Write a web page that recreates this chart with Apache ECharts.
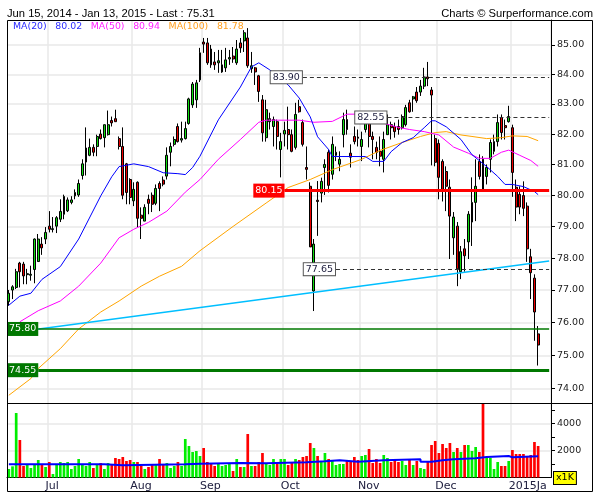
<!DOCTYPE html>
<html><head><meta charset="utf-8">
<script src="https://cdn.jsdelivr.net/npm/echarts@6/dist/echarts.min.js"></script>
<style>html,body{margin:0;padding:0;background:#fff}#c{width:600px;height:500px}</style>
</head><body><div id="c"></div>
<script>
// ---------- data ----------
const dateRange = ['Jun 15, 2014', 'Jan 13, 2015'];
const monthNames = ['Jun','Jul','Aug','Sep','Oct','Nov','Dec','2015Ja'];
const monthCounts = [10,23,19,22,21,21,20,9];
// [open, close, low, high]
const ohlc = [
[76.64,76.90,76.51,77.00],[77.00,77.10,76.72,77.15],[77.08,77.57,77.03,77.66],[77.84,77.57,77.08,77.88],[77.81,77.44,77.18,77.88],
[77.48,77.51,77.18,77.66],[77.46,77.49,77.29,77.76],[77.64,78.60,77.21,78.62],[77.89,78.60,77.88,78.76],[78.44,78.32,78.10,78.66],
[78.60,78.81,78.44,78.98],[79.01,78.91,78.81,79.49],[78.90,78.93,78.81,79.30],[79.01,79.28,78.79,79.33],[79.23,79.48,79.14,79.87],
[79.39,79.96,79.23,80.02],[79.50,79.85,79.46,79.93],[79.77,79.85,79.71,79.97],[79.98,80.09,79.87,80.19],[80.01,80.38,79.95,80.51],
[80.64,81.02,80.51,81.17],[81.08,81.54,80.64,82.22],[81.30,81.56,81.27,81.85],[81.56,81.40,81.27,81.66],[81.59,81.92,81.27,81.98],
[82.00,81.85,81.82,82.15],[81.88,82.31,81.56,82.31],[81.98,82.31,81.95,82.78],[82.45,82.37,82.25,82.58],[82.51,82.41,82.41,82.81],
[81.85,81.59,81.49,81.92],[81.59,80.00,79.87,82.22],[81.02,80.09,79.71,81.05],[80.51,79.93,79.71,80.55],[79.82,80.19,79.65,80.42],
[80.42,79.26,78.97,80.45],[79.36,79.26,78.60,79.61],[79.17,79.61,79.17,79.71],[79.87,79.74,79.39,80.02],[80.00,79.71,79.46,80.09],
[79.74,80.22,79.68,80.35],[80.38,80.22,79.49,80.45],[80.49,80.36,80.29,80.61],[80.62,81.30,80.51,81.56],[81.40,81.59,80.94,81.72],
[81.66,81.82,81.59,81.92],[82.25,81.75,81.72,82.35],[81.80,81.85,81.72,82.41],[81.85,82.18,81.82,82.41],[82.35,83.17,82.31,83.21],
[82.97,83.67,82.87,83.74],[83.14,83.71,82.87,83.81],[83.81,84.73,83.74,84.90],[85.10,85.03,84.73,85.24],[85.07,84.39,84.32,85.24],
[84.86,84.32,84.22,85.00],[84.42,84.32,84.15,84.76],[84.39,84.46,84.05,84.83],[84.08,84.32,84.05,84.83],[84.22,84.49,84.08,84.90],
[84.52,84.57,84.32,84.83],[84.62,84.52,84.39,84.93],[84.39,84.86,84.32,85.17],[85.07,84.90,84.73,85.24],[85.14,85.42,84.76,85.51],
[85.24,84.29,84.22,85.58],[84.19,84.29,84.05,84.76],[84.22,84.08,83.64,84.25],[83.95,83.42,83.07,83.98],[83.14,82.04,81.75,83.30],
[81.88,82.81,81.75,83.14],[82.41,82.51,82.15,82.71],[82.25,82.48,81.59,82.58],[82.41,81.92,81.49,82.48],[81.49,81.75,80.58,82.04],
[82.00,82.12,81.59,82.41],[82.15,81.98,81.49,82.91],[81.98,81.43,81.40,82.15],[81.56,82.65,81.49,83.04],[82.91,82.74,82.71,83.14],
[82.38,81.66,81.59,82.48],[80.90,80.84,80.51,81.59],[80.29,78.35,78.35,80.42],[76.97,78.44,76.35,78.60],[79.84,79.80,78.70,80.46],
[80.07,80.45,79.77,80.57],[80.90,81.00,80.01,81.17],[81.40,80.32,80.09,81.49],[80.68,81.66,80.51,81.92],[81.30,81.40,81.11,81.59],
[81.01,81.17,80.78,81.43],[81.98,82.48,81.56,82.71],[82.48,82.15,81.98,82.81],[81.37,81.24,80.90,81.66],[81.92,81.75,81.66,82.25],
[81.90,81.86,81.59,82.15],[81.59,81.82,81.11,82.08],[82.15,82.55,82.05,82.65],[82.45,81.92,81.56,82.55],[81.92,81.82,81.17,82.08],
[81.56,81.40,81.17,81.75],[81.43,81.27,80.94,81.92],[81.17,81.82,80.74,82.08],[81.98,82.31,81.98,82.65],[82.31,82.21,81.82,82.41],
[82.25,82.08,81.88,82.38],[82.25,82.15,81.98,82.48],[82.21,82.58,82.15,82.65],[82.31,82.88,82.25,82.97],[83.04,82.74,82.71,83.14],
[83.17,83.24,82.74,83.27],[83.40,83.11,83.04,83.57],[83.40,83.60,83.27,83.81],[83.60,83.91,83.50,84.22],[83.91,83.85,83.60,84.42],
[83.47,83.30,80.97,83.57],[81.85,81.07,80.94,81.98],[81.69,80.58,79.87,81.82],[81.10,80.19,79.80,81.17],[80.77,80.29,79.49,80.94],
[80.26,79.33,77.97,80.51],[78.64,79.30,78.10,79.46],[79.01,77.66,77.12,79.14],[77.57,78.20,77.34,78.38],[78.29,78.07,77.57,78.60],
[78.51,79.39,77.97,79.49],[79.14,79.77,78.38,80.58],[79.77,80.29,79.17,81.17],[81.10,80.61,80.51,81.33],[81.17,80.19,80.13,81.27],
[80.61,80.90,80.35,81.00],[81.17,81.72,80.74,81.82],[81.43,81.75,81.33,81.98],[81.75,82.38,81.59,82.65],[82.55,82.05,81.82,82.65],
[82.28,82.21,81.82,82.48],[82.41,82.58,82.38,82.94],[82.21,80.74,79.95,82.31],[80.26,79.62,79.17,80.51],[80.03,79.62,79.39,80.29],
[79.99,79.58,79.33,80.45],[79.65,78.29,77.88,79.77],[78.04,77.54,76.72,78.29],[77.37,76.32,75.44,77.49],[75.65,75.31,74.69,75.89]
];
const volumes = [
627,824,4760,2768,849,923,701,923,1292,923,775,1144,258,923,1144,1070,1144,627,849,1365,
972,849,1144,701,923,1070,627,1070,996,1439,1365,1513,1218,1292,1144,1144,849,627,775,923,
996,1365,923,1070,701,849,1144,849,2841,2325,1882,1956,1587,2177,1144,996,849,996,849,923,
996,480,1365,775,775,3210,849,849,1144,1808,1070,923,1365,996,1365,1365,923,1144,1365,1292,
1513,1587,2546,2177,1587,1144,1808,1365,1218,923,996,996,1292,1218,1513,1292,1587,1661,2103,1070,
1365,1070,1661,1439,1144,1365,1144,1218,923,1365,923,1218,701,627,1144,2399,2694,1808,2472,2177,
2546,1882,2177,1882,2399,2399,1956,2251,1882,5600,1513,1439,627,1144,849,849,1218,2030,1734,1734,
1734,1587,1661,2620,2325
];
// volume average (steps: [index, value])
const volMA = [[0,972],[26,898],[31,972],[48,1021],[52,1070],[63,1045],[70,1119],[81,1193],[86,1267],[90,1169],[95,1267],[102,1341],[112,1169],[115,1267],[118,1341],[121,1415],[127,1513],[130,1587],[136,1488],[137,1562],[144,1562]];
const ma20 = [[0,76.53],[3,76.81],[6,76.90],[9,77.33],[14,77.73],[19,78.60],[25,79.98],[28,80.60],[30,80.93],[34,81.02],[38,80.93],[42,80.73],[46,80.70],[48,80.67],[50,80.90],[52,81.27],[57,82.47],[63,83.57],[66,84.25],[68,84.39],[71,84.15],[76,83.64],[79,83.20],[82,82.57],[84,81.91],[87,81.49],[88,81.26],[92,81.26],[97,81.26],[99,81.10],[102,81.10],[104,81.42],[107,81.72],[110,81.88],[113,82.21],[115,82.44],[116,82.44],[119,82.24],[123,81.82],[126,81.32],[130,80.93],[133,80.61],[135,80.35],[137,80.35],[140,80.28],[143,80.12],[144,80.02]];
const ma50 = [[3,76.02],[8,76.36],[14,76.66],[19,77.12],[25,77.84],[30,78.64],[34,78.91],[38,79.13],[43,79.49],[48,80.10],[52,80.51],[57,81.17],[63,81.82],[68,82.39],[70,82.46],[79,82.46],[83,82.39],[88,82.42],[92,82.66],[95,82.66],[101,82.39],[106,82.22],[109,82.15],[113,82.08],[117,81.97],[121,81.57],[125,81.37],[128,81.20],[131,81.20],[134,81.40],[136,81.47],[139,81.30],[142,81.13],[144,80.94]];
const ma100 = [[0,73.80],[6,74.30],[8,74.60],[14,75.20],[19,75.80],[25,76.32],[30,76.66],[36,77.12],[41,77.43],[47,77.74],[52,78.23],[61,79.00],[70,79.75],[76,80.25],[82,80.51],[88,80.83],[96,81.17],[101,81.46],[107,81.72],[112,81.92],[116,82.05],[119,82.08],[123,81.97],[126,81.92],[130,81.85],[134,81.88],[137,81.94],[141,81.92],[144,81.78]];
const trend = [[0,75.68],[147,77.91]];
const priceTicks = [74,75,76,77,78,79,80,81,82,83,84,85];
const volLabelTicks = [2000,4000];
const volMinorTicks = [1000,3000,5000];
const dashedLevels = [83.90, 82.55, 77.65];
const dashedStartIdx = [80, 103, 89];
const redLevels = [80.15];
const redStartIdx = [75];
const greenLevels = [75.80, 74.55];
const greenStartIdx = [8, 8];

// ---------- build ----------
const PAD = 3;
const categories = [];
monthNames.forEach((m, k) => { for (let d = 1; d <= monthCounts[k]; d++) categories.push(m + ' ' + d); });
for (let p = 0; p < PAD; p++) categories.push('');
const lastIdx = categories.length - 1;
const monthStart = new Set(); let acc = 0;
monthCounts.forEach(c => { monthStart.add(acc); acc += c; });
const labelFn = (i) => i > 0 && monthStart.has(i);
const splitFn = (i) => i > 1 && monthStart.has(i - 1);

const GREEN = '#10dd10', RED = '#ee0000';
const isUp = (i) => ohlc[i][1] >= ohlc[i][0];
const lastClose = ohlc[ohlc.length - 1][1];
const lastOf = (a) => a[a.length - 1][1].toFixed(2);

const gridLine = {show: true, lineStyle: {color: '#e8e8e8', width: 1.5}};
const FONT = 'DejaVu Sans';

const markData = [];
dashedLevels.forEach((v, k) => markData.push([
  {coord: [dashedStartIdx[k], v], lineStyle: {type: [4, 3], color: '#333', width: 1},
   label: {show: true, position: 'start', distance: 1, formatter: v.toFixed(2), color: '#1c1c3c',
           backgroundColor: '#fff', borderColor: '#555', borderWidth: 1, padding: [1, 2], fontSize: 9.5, fontFamily: FONT}},
  {coord: [lastIdx, v]}]));
redLevels.forEach((v, k) => markData.push([
  {coord: [redStartIdx[k], v], lineStyle: {type: 'solid', color: '#ff0000', width: 3},
   label: {show: true, position: 'start', distance: 0, formatter: v.toFixed(2), color: '#fff',
           backgroundColor: '#ff0000', padding: [2, 2], fontSize: 9.5, fontFamily: FONT}},
  {coord: [lastIdx, v]}]));
greenLevels.forEach((v, k) => markData.push([
  {coord: [greenStartIdx[k], v], lineStyle: {type: 'solid', color: '#007800', width: k === 0 ? 1.5 : 3},
   label: {show: true, position: 'start', distance: 0, formatter: v.toFixed(2), color: '#fff',
           backgroundColor: '#007800', padding: [2, 2], fontSize: 9.5, fontFamily: FONT}},
  {coord: [lastIdx, v]}]));

const chart = echarts.init(document.getElementById('c'), null, {renderer: 'canvas'});
chart.setOption({
  animation: false,
  backgroundColor: '#fff',
  textStyle: {fontFamily: FONT},
  title: [
    {text: dateRange[0] + ' - ' + dateRange[1] + ' - Last : ' + lastClose.toFixed(2), left: 7, top: 8, padding: 0,
     textStyle: {fontFamily: 'Liberation Sans', fontSize: 11.2, fontWeight: 'normal', color: '#000'}},
    {text: 'Charts \u00a9 Surperformance.com', right: 7, top: 8, padding: 0,
     textStyle: {fontFamily: 'Liberation Sans', fontSize: 11.2, fontWeight: 'normal', color: '#000'}},
    {text: '{b|MA(20)}{g| }{b|' + lastOf(ma20) + '}{g| }{m|MA(50)}{g| }{m|' + lastOf(ma50) + '}{g| }{o|MA(100)}{g| }{o|' + lastOf(ma100) + '}',
     left: 13, top: 22, padding: 0,
     textStyle: {fontSize: 9.4, fontWeight: 'normal', rich: {
       b: {color: '#2a2aff', fontSize: 9.4, fontFamily: FONT},
       m: {color: '#ff22ff', fontSize: 9.4, fontFamily: FONT},
       o: {color: '#ffa020', fontSize: 9.4, fontFamily: FONT},
       g: {width: 8.6, fontSize: 9.4}}}}
  ],
  grid: [
    {left: 7, top: 20, width: 544, height: 383},
    {left: 7, top: 403, width: 544, height: 74.5}
  ],
  xAxis: [
    {type: 'category', gridIndex: 0, data: categories, boundaryGap: true,
     axisLine: {show: false}, axisTick: {show: false}, axisLabel: {show: false},
     splitLine: Object.assign({interval: splitFn}, gridLine)},
    {type: 'category', gridIndex: 1, data: categories, boundaryGap: true,
     axisLine: {show: true, lineStyle: {color: '#000', width: 1}}, axisTick: {show: false},
     axisLabel: {interval: labelFn, formatter: (v) => v.split(' ')[0], align: 'left', fontSize: 11, color: '#202040', margin: 3, fontFamily: FONT},
     splitLine: Object.assign({interval: splitFn}, gridLine)}
  ],
  yAxis: [
    {type: 'log', gridIndex: 0, position: 'right', min: 73.57, max: 85.86, logBase: 10,
     axisLine: {show: true, lineStyle: {color: '#000', width: 1}},
     axisTick: {show: true, customValues: priceTicks, length: 4, lineStyle: {color: '#000'}},
     axisLabel: {customValues: priceTicks, formatter: (v) => Number(v).toFixed(2), fontSize: 9.5, color: '#222', margin: 6, fontFamily: FONT},
     splitLine: gridLine},
    {type: 'value', gridIndex: 1, position: 'right', min: 0, max: 5500,
     axisLine: {show: true, lineStyle: {color: '#000', width: 1}},
     axisTick: {show: true, customValues: volLabelTicks, length: 4, lineStyle: {color: '#000'}},
     axisLabel: {customValues: volLabelTicks, formatter: (v) => String(v), fontSize: 9.5, color: '#222', margin: 6, fontFamily: FONT},
     splitLine: gridLine},
    {type: 'value', gridIndex: 1, position: 'right', min: 0, max: 5500,
     axisLine: {show: false},
     axisTick: {show: true, customValues: volMinorTicks, length: 4, lineStyle: {color: '#000'}},
     axisLabel: {show: false}, splitLine: {show: false}}
  ],
  series: [
    {type: 'candlestick', xAxisIndex: 0, yAxisIndex: 0, data: ohlc, barWidth: 2.4, z: 2,
     itemStyle: {color: GREEN, color0: RED, borderColor: '#000', borderColor0: '#000', borderWidth: 1}},
    {type: 'line', xAxisIndex: 0, yAxisIndex: 0, data: ma100, showSymbol: false, symbol: 'none', z: 3,
     lineStyle: {color: '#ffa500', width: 1}},
    {type: 'line', xAxisIndex: 0, yAxisIndex: 0, data: ma50, showSymbol: false, symbol: 'none', z: 3,
     lineStyle: {color: '#ff00ff', width: 1}},
    {type: 'line', xAxisIndex: 0, yAxisIndex: 0, data: ma20, showSymbol: false, symbol: 'none', z: 3,
     lineStyle: {color: '#0000ff', width: 1}},
    {type: 'line', xAxisIndex: 0, yAxisIndex: 0, data: trend, showSymbol: false, symbol: 'none', z: 4,
     lineStyle: {color: '#00bfff', width: 1.5},
     markLine: {symbol: ['none', 'none'], silent: true, animation: false, data: markData}},
    {type: 'bar', xAxisIndex: 1, yAxisIndex: 1, data: volumes, barWidth: 2.7, z: 2,
     itemStyle: {color: (p) => isUp(p.dataIndex) ? '#00ee00' : '#ff0000'}},
    {type: 'line', xAxisIndex: 1, yAxisIndex: 1, data: volMA, step: 'end', showSymbol: false, symbol: 'none', z: 3,
     lineStyle: {color: '#0000ff', width: 2}}
  ],
  graphic: [
    {type: 'rect', shape: {x: 7.5, y: 20.5, width: 585, height: 471}, style: {fill: 'none', stroke: '#000', lineWidth: 1}, z: 100, silent: true},
    {type: 'line', shape: {x1: 7, y1: 403.5, x2: 593, y2: 403.5}, style: {stroke: '#000', lineWidth: 1}, z: 100, silent: true},
    {type: 'text', left: 553, top: 471, z: 100, silent: true,
     style: {text: 'x1K', fontSize: 9.5, fontFamily: FONT, fill: '#000', backgroundColor: '#ffff00', borderColor: '#000', borderWidth: 1, padding: [1, 2]}}
  ]
});
</script>
</body></html>
